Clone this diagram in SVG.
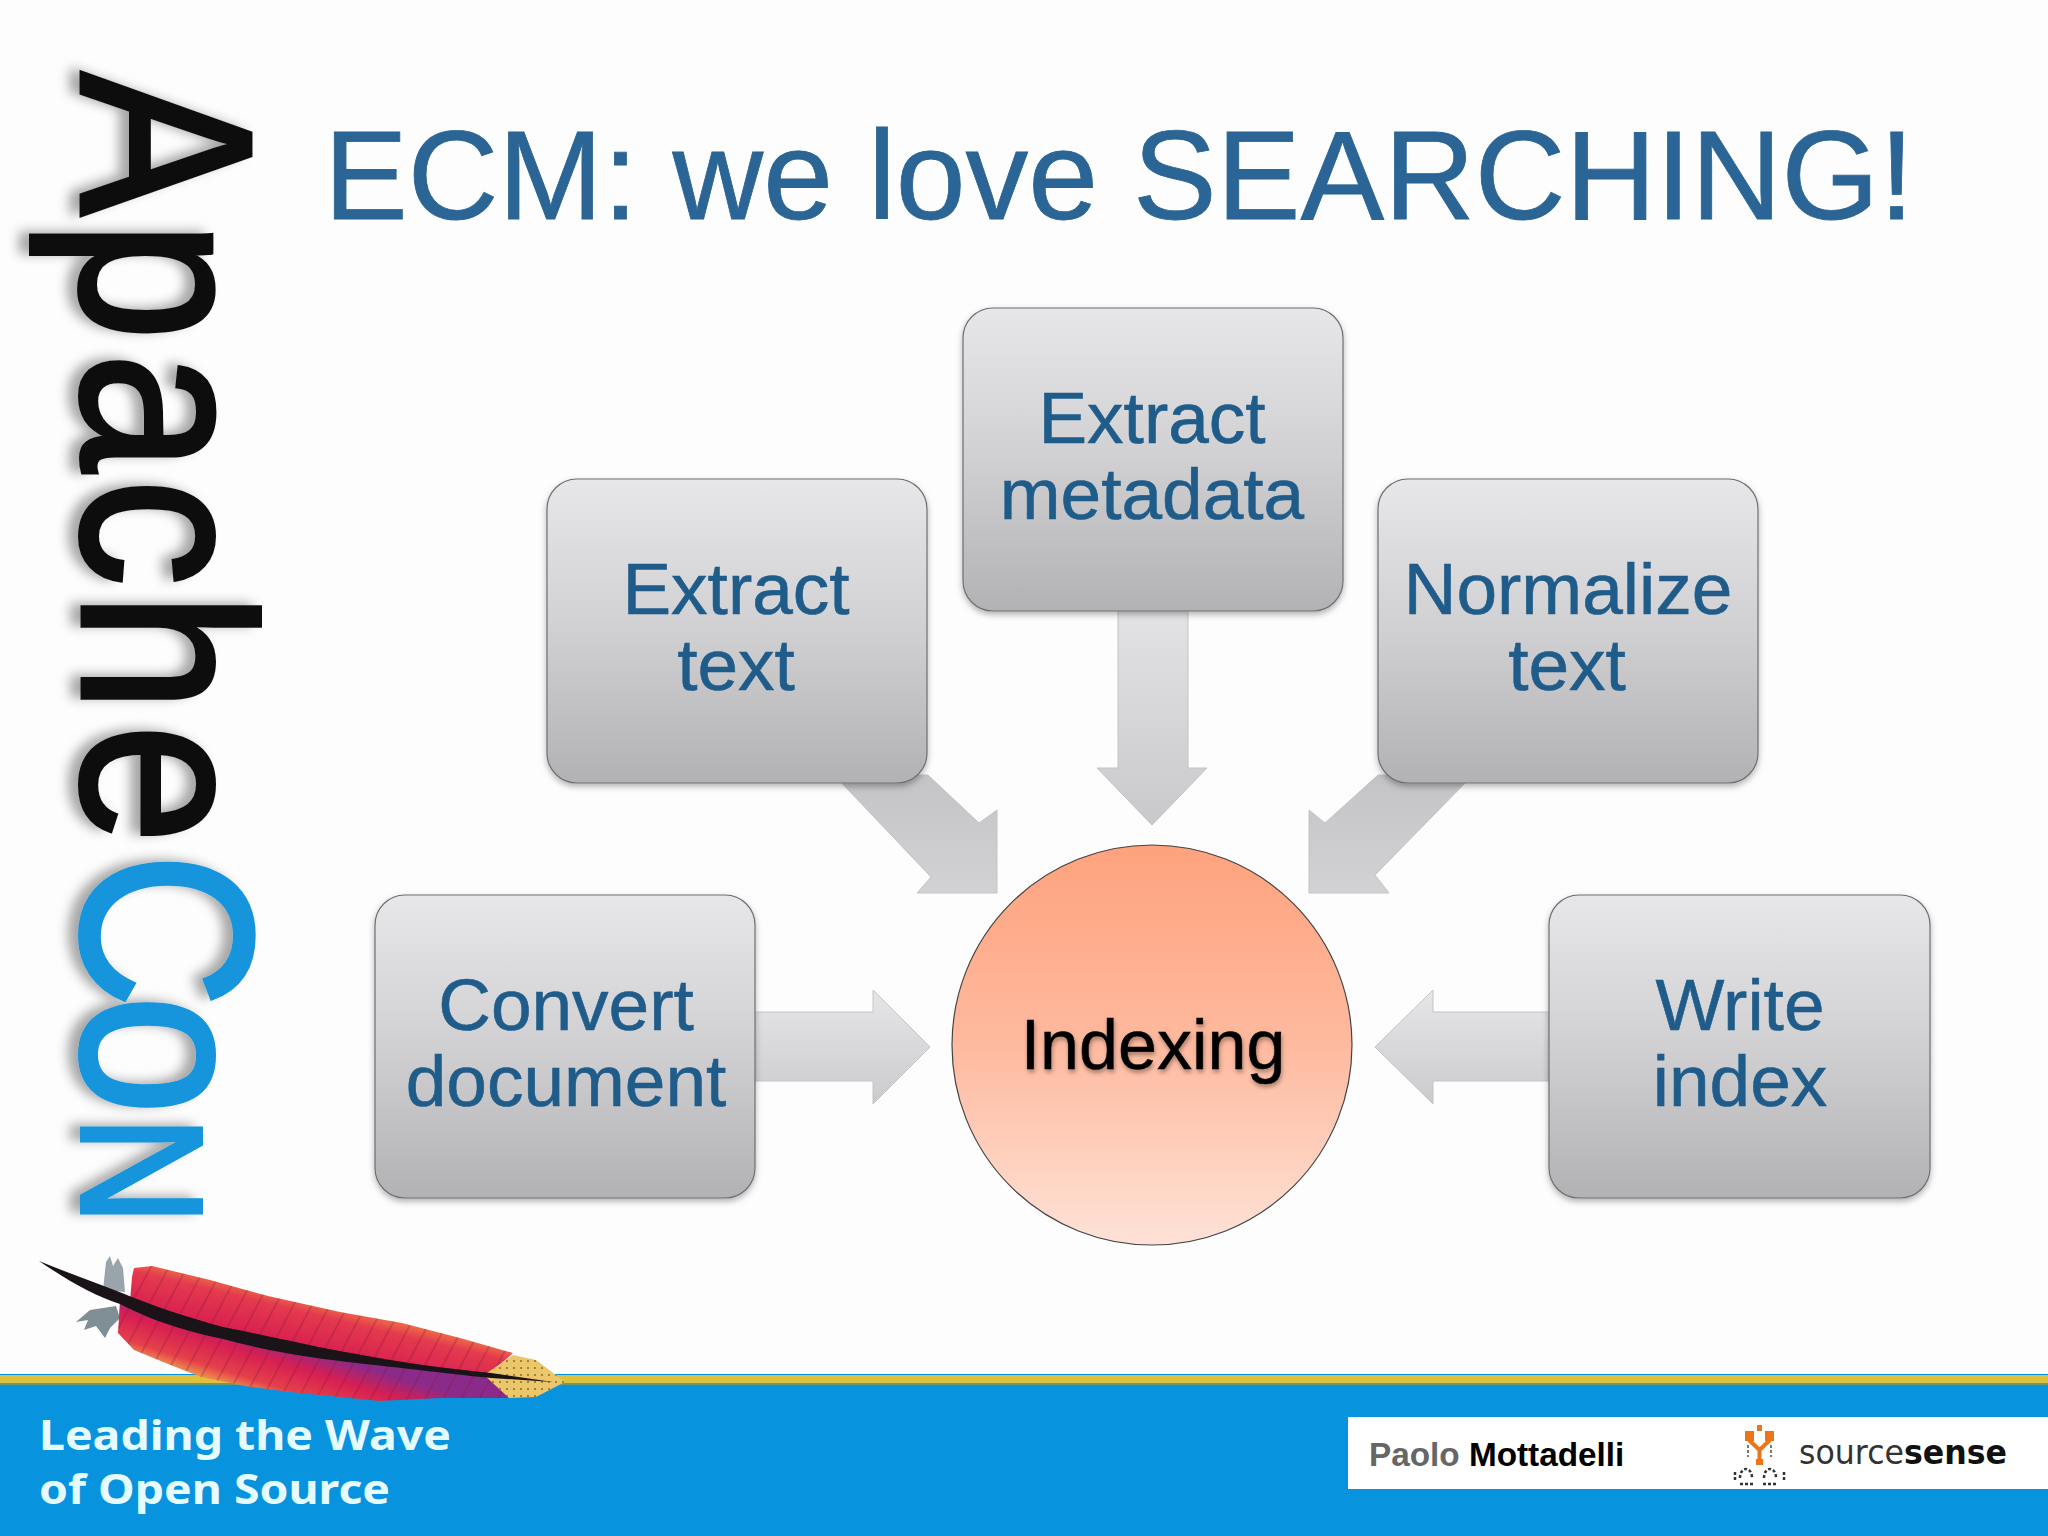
<svg xmlns="http://www.w3.org/2000/svg" width="2048" height="1536" viewBox="0 0 2048 1536">
<style>
.box{fill:url(#boxG);stroke:#6f6f72;stroke-width:1.2;filter:url(#boxS)}
.arrow{stroke:#c4c4c6;stroke-width:1}
.lbl{font-family:"Liberation Sans",Arial,sans-serif;font-size:73px;fill:#1f5c8a;stroke:#1f5c8a;stroke-width:.6;text-anchor:middle}
.foot{font-family:"Noto Sans",sans-serif;font-weight:700;font-size:42px;fill:#e6fbff}
</style>
<defs>
<linearGradient id="boxG" x1="0" y1="0" x2="0" y2="1"><stop offset="0" stop-color="#e7e7e9"/><stop offset="0.5" stop-color="#d0d0d2"/><stop offset="1" stop-color="#b2b2b5"/></linearGradient>
<linearGradient id="arD" x1="0" y1="0" x2="0" y2="1"><stop offset="0" stop-color="#e4e4e6"/><stop offset="1" stop-color="#c9c9cb"/></linearGradient>
<linearGradient id="arA" x1="0" y1="0" x2="0" y2="1"><stop offset="0" stop-color="#c4c4c6"/><stop offset="1" stop-color="#d2d2d4"/></linearGradient>
<linearGradient id="arH" x1="0" y1="0" x2="0" y2="1"><stop offset="0" stop-color="#e6e6e8"/><stop offset="1" stop-color="#cbcbcd"/></linearGradient>
<linearGradient id="circG" x1="0" y1="0" x2="0" y2="1"><stop offset="0" stop-color="#fea27d"/><stop offset="0.5" stop-color="#feba9f"/><stop offset="1" stop-color="#fee2d7"/></linearGradient>
<linearGradient id="vaneU" gradientUnits="userSpaceOnUse" x1="320" y1="1300" x2="308" y2="1350"><stop offset="0" stop-color="#ee7a45"/><stop offset="0.3" stop-color="#e43a4e"/><stop offset="1" stop-color="#d81e50"/></linearGradient>
<linearGradient id="vaneL" gradientUnits="userSpaceOnUse" x1="280" y1="1340" x2="262" y2="1398"><stop offset="0" stop-color="#8a2a8a"/><stop offset="0.35" stop-color="#d61f52"/><stop offset="0.75" stop-color="#e5404a"/><stop offset="1" stop-color="#f0a050"/></linearGradient>
<pattern id="barbs" width="16" height="16" patternUnits="userSpaceOnUse" patternTransform="rotate(28)"><path d="M8 0V16" stroke="#8a1036" stroke-width="1.5" stroke-opacity=".35"/></pattern>
<pattern id="dots" width="7" height="7" patternUnits="userSpaceOnUse"><circle cx="3" cy="3" r="1" fill="#8a6a20"/></pattern>
<filter id="boxS" x="-5%" y="-5%" width="110%" height="112%"><feDropShadow dx="0" dy="3" stdDeviation="3" flood-color="#000" flood-opacity=".3"/></filter>
<filter id="logoS" x="-10%" y="-5%" width="120%" height="110%"><feDropShadow dx="-10" dy="-2" stdDeviation="6" flood-color="#000" flood-opacity=".35"/></filter>
<filter id="txtS" x="-5%" y="-10%" width="110%" height="130%"><feDropShadow dx="1" dy="3" stdDeviation="2" flood-color="#000" flood-opacity=".35"/></filter>
</defs>
<rect width="2048" height="1536" fill="#fdfdfd"/>
<g id="logo-apachecon" filter="url(#logoS)">
<text transform="translate(82,72) rotate(90) scale(.88,1)" x="0 169 319 462 591 741 887 1049 1186" font-family="'Liberation Sans',Arial,sans-serif" font-size="245" fill="#111" stroke="#111" stroke-width="4">Apache<tspan fill="#1594dc" stroke="#1594dc">Co<tspan style="font-variant:small-caps">n</tspan></tspan></text>
</g>
<text id="title" x="324" y="219" font-family="'Liberation Sans',Arial,sans-serif" font-size="125.500" fill="#2a6595" stroke="#2a6595" stroke-width=".8">ECM: we love SEARCHING!</text>
<g id="connectors">
<path class="arrow" fill="url(#arD)" d="M1118 600H1188V768H1207L1152 825L1097 768H1118Z"/>
<path class="arrow" fill="url(#arA)" d="M834 775L928 775L979 823L997 810V893H917L931 877Z"/>
<path class="arrow" fill="url(#arA)" d="M1473 775L1378 775L1325 823L1309 810V893H1389L1375 875Z"/>
<path class="arrow" fill="url(#arH)" d="M745 1012H873V990L930 1047L873 1104V1081H745Z"/>
<path class="arrow" fill="url(#arH)" d="M1559 1012H1433V990L1375 1047L1433 1104V1081H1559Z"/>
</g>
<g id="node-extract-metadata"><rect class="box" x="963" y="308" width="380" height="303" rx="30"/><text class="lbl" x="1152" y="443">Extract</text><text class="lbl" x="1152" y="519">metadata</text></g>
<g id="node-extract-text"><rect class="box" x="547" y="479" width="380" height="304" rx="30"/><text class="lbl" x="736" y="614">Extract</text><text class="lbl" x="736" y="690">text</text></g>
<g id="node-normalize-text"><rect class="box" x="1378" y="479" width="380" height="304" rx="30"/><text class="lbl" x="1568" y="614">Normalize</text><text class="lbl" x="1567" y="690">text</text></g>
<g id="node-convert-document"><rect class="box" x="375" y="895" width="380" height="303" rx="30"/><text class="lbl" x="566" y="1030">Convert</text><text class="lbl" x="566" y="1106">document</text></g>
<g id="node-write-index"><rect class="box" x="1549" y="895" width="381" height="303" rx="30"/><text class="lbl" x="1740" y="1030">Write</text><text class="lbl" x="1740" y="1106">index</text></g>
<g id="node-indexing"><circle cx="1152" cy="1045" r="200" fill="url(#circG)" stroke="#444" stroke-width="1.2"/><text x="1153" y="1069" font-family="'Liberation Sans',Arial,sans-serif" font-size="70" fill="#000" stroke="#000" stroke-width=".5" text-anchor="middle" filter="url(#txtS)">Indexing</text></g>
<g id="footer">
<rect y="1374" width="2048" height="162" fill="#0893de"/>
<rect y="1375" width="2048" height="8" fill="#dcc13e"/>
<rect y="1383" width="2048" height="2" fill="#6b9a70"/>
<text class="foot" x="39" y="1450" textLength="412" lengthAdjust="spacingAndGlyphs">Leading the Wave</text>
<text class="foot" x="39" y="1504" textLength="351" lengthAdjust="spacingAndGlyphs">of Open Source</text>
<rect x="1348" y="1417" width="700" height="72" fill="#fff"/>
<text x="1369" y="1466" font-family="'Liberation Sans',Arial,sans-serif" font-size="33.300" font-weight="700" fill="#666">Paolo <tspan fill="#000">Mottadelli</tspan></text>
<g id="sourcesense-icon">
<path d="M1745 1431h9v10h-9zM1765 1431h9v10h-9zM1757 1425h5v6h-5z" fill="#ee7418"/>
<path d="M1749 1440L1759.500 1450L1770 1440M1759.500 1450V1460" fill="none" stroke="#ee7418" stroke-width="4"/>
<path d="M1756 1459h7v6h-7z" fill="#ee7418"/>
<path d="M1748 1445v12M1771 1445v12" stroke="#777" stroke-width="2" stroke-dasharray="3 2"/>
<path d="M1735 1472v8M1740 1478c0-12 12-12 12 0M1740 1484h13M1764 1478c0-12 12-12 12 0M1763 1484h14M1784 1472v8" fill="none" stroke="#333" stroke-width="2.500" stroke-dasharray="3 2"/>
</g>
<text x="1799" y="1464" font-family="'DejaVu Sans',sans-serif" font-size="33" fill="#333" textLength="208" lengthAdjust="spacingAndGlyphs">source<tspan font-weight="700" fill="#111">sense</tspan></text>
</g>
<g id="feather">
<path d="M103 1290L106 1262L110 1256L113 1266L118 1258L123 1268L125 1292Z" fill="#9aa5ab"/>
<path d="M116 1306L90 1310L76 1322L88 1320L84 1330L96 1326L105 1338L110 1328L120 1318Z" fill="#7f8f95"/>
<path id="v1" d="M132 1277L134 1268L152 1266L210 1280L268 1296L340 1312L402 1323L460 1338L513 1353L487 1376L400 1365L300 1350L223 1333L130 1302Z" fill="url(#vaneU)"/>
<path d="M132 1277L134 1268L152 1266L210 1280L268 1296L340 1312L402 1323L460 1338L513 1353L487 1376L400 1365L300 1350L223 1333L130 1302Z" fill="url(#barbs)"/>
<path id="v2" d="M120 1300L118 1333L134 1350L168 1364L201 1377L245 1386L290 1392L379 1401L440 1398L509 1398L487 1373L357 1357L223 1332Z" fill="url(#vaneL)"/>
<path d="M120 1300L118 1333L134 1350L168 1364L201 1377L245 1386L290 1392L379 1401L440 1398L509 1398L487 1373L357 1357L223 1332Z" fill="url(#barbs)"/>
<path d="M484 1375L513 1355L536 1360L565 1382L536 1397L509 1398Z" fill="#ecc66a"/>
<path d="M484 1375L513 1355L536 1360L565 1382L536 1397L509 1398Z" fill="url(#dots)"/>
<path d="M39 1261C70 1282 95 1296 120 1304C160 1325 200 1334 223 1339C270 1352 320 1359 357 1363C410 1369 470 1376 491 1378L553 1382L491 1373C440 1368 400 1362 357 1354C310 1346 270 1336 223 1327C190 1318 150 1305 122 1293C95 1282 65 1272 39 1261Z" fill="#1a1418"/>
</g>
</svg>
